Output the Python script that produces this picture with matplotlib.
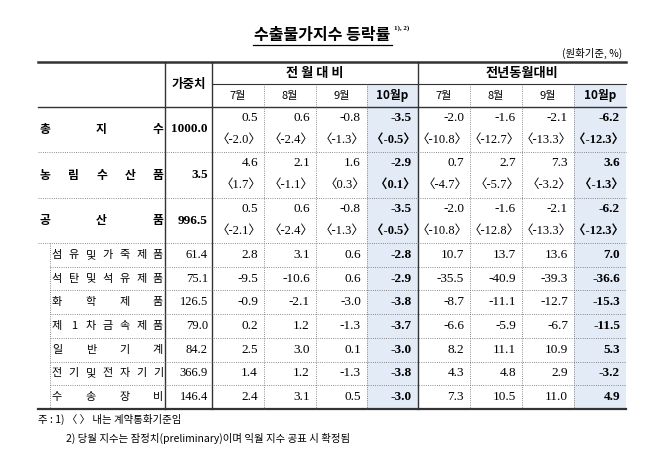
import matplotlib.pyplot as plt

plt.rcParams['font.family'] = ['Noto Sans CJK KR', 'DejaVu Sans']

title = '수출물가지수 등락률'
unit = '(원화기준, %)'
groups = ['전 월 대 비', '전년동월대비']
months = ['7월', '8월', '9월', '10월p', '7월', '8월', '9월', '10월p']
labels = ['총지수', '농림수산품', '공산품', '섬유및가죽제품', '석탄및석유제품', '화학제품',
          '제1차금속제품', '일반기계', '전기및전자기기', '수송장비']
weights = ['1000.0', '3.5', '996.5', '61.4', '75.1', '126.5', '79.0', '84.2', '366.9', '146.4']
values = [
    [0.5, 0.6, -0.8, -3.5, -2.0, -1.6, -2.1, -6.2],
    [4.6, 2.1, 1.6, -2.9, 0.7, 2.7, 7.3, 3.6],
    [0.5, 0.6, -0.8, -3.5, -2.0, -1.6, -2.1, -6.2],
    [2.8, 3.1, 0.6, -2.8, 10.7, 13.7, 13.6, 7.0],
    [-9.5, -10.6, 0.6, -2.9, -35.5, -40.9, -39.3, -36.6],
    [-0.9, -2.1, -3.0, -3.8, -8.7, -11.1, -12.7, -15.3],
    [0.2, 1.2, -1.3, -3.7, -6.6, -5.9, -6.7, -11.5],
    [2.5, 3.0, 0.1, -3.0, 8.2, 11.1, 10.9, 5.3],
    [1.4, 1.2, -1.3, -3.8, 4.3, 4.8, 2.9, -3.2],
    [2.4, 3.1, 0.5, -3.0, 7.3, 10.5, 11.0, 4.9],
]
contract = [
    [-2.0, -2.4, -1.3, -0.5, -10.8, -12.7, -13.3, -12.3],
    [1.7, -1.1, 0.3, 0.1, -4.7, -5.7, -3.2, -1.3],
    [-2.1, -2.4, -1.3, -0.5, -10.8, -12.8, -13.3, -12.3],
]
notes = ['주 : 1) 〈 〉 내는 계약통화기준임',
         '2) 당월 지수는 잠정치(preliminary)이며 익월 지수 공표 시 확정됨']

fig = plt.figure(figsize=(6.5, 4.53), dpi=100)
ax = fig.add_axes([0, 0, 1, 1])
ax.set_xlim(0, 650)
ax.set_ylim(453, 0)
ax.axis('off')

xs = [38, 165, 212, 264, 316, 367, 418, 470, 522, 574, 626]
top, split, hb = 62, 84, 107
rows = [107, 152, 198, 243] + [243 + 23.7 * i for i in range(1, 8)]
bottom = rows[-1]
num = 'Liberation Serif'
shade = '#e3ebf6'

for c in (5, 9):
    ax.fill_between([xs[c], xs[c + 1]], split, bottom, color=shade, lw=0)

ax.text(322, 35, title, ha='center', va='center', fontsize=11.5, fontweight='bold')
ax.plot([253, 392], [45, 45], color='black', lw=0.9)
ax.text(394, 30, '1), 2)', fontsize=5, fontweight='bold', family=num)
ax.text(622, 53, unit, ha='right', va='center', fontsize=7.5)

# lines
ax.plot([xs[0], xs[-1]], [top, top], color='#333', lw=1.8)
ax.plot([xs[0], xs[-1]], [hb, hb], color='#333', lw=1.0)
ax.plot([xs[0], xs[-1]], [bottom, bottom], color='#333', lw=1.6)
ax.plot([xs[2], xs[-1]], [split, split], color='#333', lw=0.8)
for x in (xs[1], xs[2], xs[6]):
    ax.plot([x, x], [top, bottom], color='#333', lw=1.0)
for c in (3, 4, 5, 7, 8, 9):
    ax.plot([xs[c], xs[c]], [split, bottom], color='#666', lw=0.6, ls=':')
for i, y in enumerate(rows[1:-1]):
    x0 = xs[0] if i < 3 else 50
    ax.plot([x0, xs[-1]], [y, y], color='#666', lw=0.6, ls=':')
ax.plot([50, 50], [rows[3], bottom], color='#666', lw=0.6, ls=':')

# header
ax.text((xs[1] + xs[2]) / 2, (top + hb) / 2, '가중치', ha='center', va='center',
        fontsize=9, fontweight='bold')
ax.text((xs[2] + xs[6]) / 2, (top + split) / 2, groups[0], ha='center', va='center',
        fontsize=9.5, fontweight='bold')
ax.text((xs[6] + xs[-1]) / 2, (top + split) / 2, groups[1], ha='center', va='center',
        fontsize=9.5, fontweight='bold')
for c, m in enumerate(months):
    bold = m.endswith('p')
    ax.text((xs[c + 2] + xs[c + 3]) / 2, (split + hb) / 2, m, ha='center', va='center',
            fontsize=8.5 if bold else 8, fontweight='bold' if bold else 'normal')

# body
for r, lab in enumerate(labels):
    y0, y1 = rows[r], rows[r + 1]
    yc = (y0 + y1) / 2
    big = r < 3
    chars = list(lab)
    lx0, lx1 = (45, 158) if big else (57, 158)
    n = len(chars)
    for k, ch in enumerate(chars):
        x = lx0 + (lx1 - lx0) * (k / (n - 1)) if n > 1 else lx0
        ax.text(x, yc, ch, ha='center', va='center', fontsize=8.5 if big else 8,
                fontweight='bold' if big else 'normal')
    ax.text(xs[2] - 4, yc, weights[r], ha='right', va='center', family=num,
            fontsize=9.5 if big else 9, fontweight='bold' if big else 'normal')
    for c, v in enumerate(values[r]):
        bold = c in (3, 7)
        xr = xs[c + 3] - 6
        yv = y0 + 11 if big else yc
        ax.text(xr, yv, f'{v:.1f}', ha='right', va='center', family=num, fontsize=9.5,
                fontweight='bold' if bold else 'normal')
        if big:
            ax.text(xs[c + 3] - 2, y0 + 33, f'〈{contract[r][c]:.1f}〉', ha='right', va='center',
                    family=[num, 'Noto Sans CJK KR'], fontsize=9,
                    fontweight='bold' if bold else 'normal')

ax.text(38, 419, notes[0], va='center', fontsize=7.5)
ax.text(66, 438, notes[1], va='center', fontsize=7.5)

fig.savefig('out.png')
